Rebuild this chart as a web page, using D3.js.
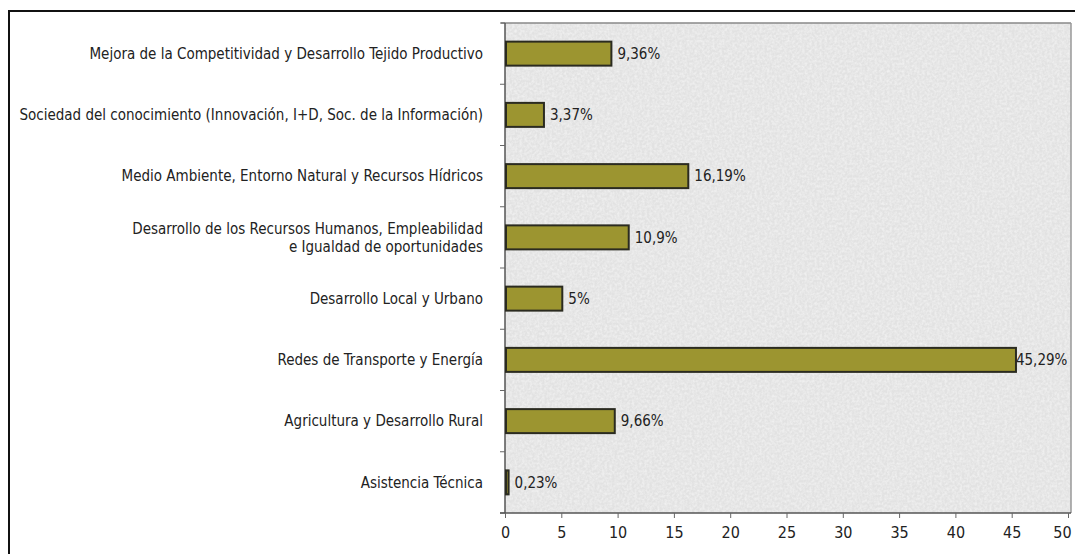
<!DOCTYPE html>
<html>
<head>
<meta charset="utf-8">
<script src="https://cdn.jsdelivr.net/npm/d3@7"></script>
<style>
  body { margin: 0; background: #fff; }
  svg { display: block; }
  text { font-family: "Liberation Sans Narrow", "DejaVu Sans Condensed", sans-serif; fill: #222; }
</style>
</head>
<body>
<svg id="chart"></svg>
<script>
const categories = [
    ["Mejora de la Competitividad y Desarrollo Tejido Productivo"],
    ["Sociedad del conocimiento (Innovación, I+D, Soc. de la Información)"],
    ["Medio Ambiente, Entorno Natural y Recursos Hídricos"],
    ["Desarrollo de los Recursos Humanos, Empleabilidad", "e Igualdad de oportunidades"],
    ["Desarrollo Local y Urbano"],
    ["Redes de Transporte y Energía"],
    ["Agricultura y Desarrollo Rural"],
    ["Asistencia Técnica"]
];
const values = [9.36, 3.37, 16.19, 10.9, 5, 45.29, 9.66, 0.23];
const valueLabels = ["9,36%", "3,37%", "16,19%", "10,9%", "5%", "45,29%", "9,66%", "0,23%"];
const xTicks = [0, 5, 10, 15, 20, 25, 30, 35, 40, 45, 50];

const W = 1075, H = 554;
const margin = { top: 23, bottom: 41, left: 505, right: 4 };
const width = W - margin.left - margin.right;
const height = H - margin.top - margin.bottom;

let svg = d3.select("#chart").attr("width", W).attr("height", H);

// textured background
let defs = svg.append("defs");
let filter = defs.append("filter").attr("id", "grain").attr("x", 0).attr("y", 0).attr("width", 1).attr("height", 1);
filter.append("feTurbulence").attr("type", "fractalNoise").attr("baseFrequency", 0.4).attr("numOctaves", 2).attr("seed", 4).attr("result", "noise");
filter.append("feColorMatrix").attr("in", "noise").attr("type", "matrix")
    .attr("values", "0 0 0 0 1  0 0 0 0 1  0 0 0 0 1  0.9 0 0 0 -0.3")
    .attr("result", "tint");
filter.append("feComposite").attr("in", "tint").attr("in2", "SourceGraphic").attr("operator", "atop");

// outer frame
svg.append("line").attr("x1", 8).attr("x2", W).attr("y1", 11).attr("y2", 11).attr("stroke", "#111").attr("stroke-width", 2);
svg.append("line").attr("x1", 9).attr("x2", 9).attr("y1", 10).attr("y2", H).attr("stroke", "#111").attr("stroke-width", 2);

let chart = svg.append("g").attr("transform", `translate(${margin.left},${margin.top})`);

chart.append("rect")
    .attr("x", 0).attr("y", 0).attr("width", width).attr("height", height)
    .attr("fill", "#e2e2e2")
    .attr("filter", "url(#grain)");

chart.append("line").attr("x1", -4).attr("x2", width).attr("y1", 0).attr("y2", 0).attr("stroke", "#888").attr("stroke-width", 1.5);
chart.append("line").attr("x1", width).attr("x2", width).attr("y1", 0).attr("y2", height).attr("stroke", "#999").attr("stroke-width", 1.5);

let xScale = d3.scaleLinear().domain([0, 50]).range([0, width - 3]);
let yScale = d3.scaleBand().domain(d3.range(values.length)).range([0, height]);

// y axis with ticks at band boundaries
let yAxisG = chart.append("g");
yAxisG.append("line").attr("x1", 0).attr("x2", 0).attr("y1", 0).attr("y2", height).attr("stroke", "#555").attr("stroke-width", 1.5);
yAxisG.selectAll(".ytick")
    .data(d3.range(values.length + 1))
    .join("line")
    .attr("class", "ytick")
    .attr("x1", -5).attr("x2", 0)
    .attr("y1", d => d * yScale.step()).attr("y2", d => d * yScale.step())
    .attr("stroke", "#666");

// x axis
let xAxis = d3.axisBottom(xScale).tickValues(xTicks).tickSize(5).tickPadding(9).tickSizeOuter(0);
let axisG = chart.append("g").attr("transform", `translate(0,${height})`).call(xAxis);
axisG.select(".domain").attr("stroke", "#555").attr("stroke-width", 1.5).attr("d", `M-5,0H${width}`);
axisG.selectAll(".tick line").attr("stroke", "#666");
axisG.selectAll(".tick text")
    .attr("font-family", "'Liberation Sans Narrow', sans-serif")
    .attr("font-size", 16)
    .attr("fill", "#222")
    .attr("dx", d => d === 50 ? -6 : 0);

// bars
let barH = 24;
chart.selectAll(".bar")
    .data(values)
    .join("rect")
    .attr("class", "bar")
    .attr("x", xScale(0) + 1)
    .attr("y", (d, i) => yScale(i) + yScale.bandwidth() / 2 - barH / 2)
    .attr("width", d => Math.max(xScale(d) - xScale(0), 2))
    .attr("height", barH)
    .attr("fill", "#9c9530")
    .attr("stroke", "#2b2b20")
    .attr("stroke-width", 2);

// value labels
chart.selectAll(".vlabel")
    .data(values)
    .join("text")
    .attr("class", "vlabel")
    .attr("x", d => xScale(d) + (d > 40 ? 1 : 7))
    .attr("y", (d, i) => yScale(i) + yScale.bandwidth() / 2)
    .attr("dy", "0.35em")
    .attr("font-size", 15)
    .text((d, i) => valueLabels[i]);

// category labels
let catG = chart.selectAll(".cat")
    .data(categories)
    .join("text")
    .attr("class", "cat")
    .attr("text-anchor", "end")
    .attr("font-size", 15)
    .attr("transform", (d, i) => `translate(-22,${yScale(i) + yScale.bandwidth() / 2})`);

catG.selectAll("tspan")
    .data(d => d.map((t, k) => ({ t, k, n: d.length })))
    .join("tspan")
    .attr("x", 0)
    .attr("y", d => (d.k - (d.n - 1) / 2) * 18)
    .attr("dy", "0.35em")
    .text(d => d.t);
</script>
</body>
</html>
